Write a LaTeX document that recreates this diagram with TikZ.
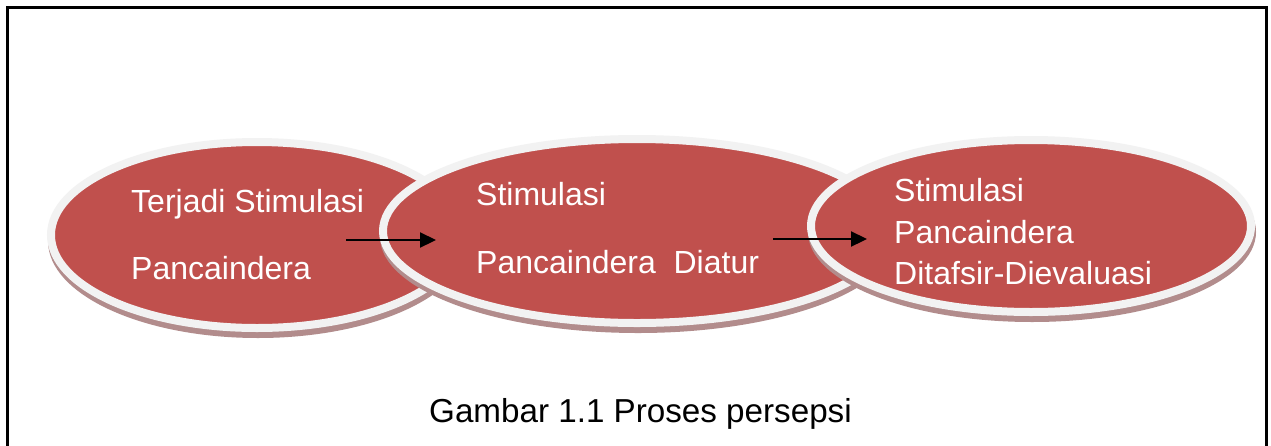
\documentclass[tikz,border=0pt]{standalone}
\usepackage{fontspec}
\setmainfont{Liberation Sans}
\usetikzlibrary{shapes.geometric,arrows.meta}
\definecolor{ovalred}{HTML}{C0504D}
\definecolor{ovalrim}{HTML}{F2F2F2}
\definecolor{ovalshadow}{RGB}{178,140,140}
\tikzset{
  oval/.style={ellipse, draw=ovalrim, line width=8pt, fill=ovalred, inner sep=0pt, outer sep=0pt},
  ovaltext/.style={anchor=base west, inner sep=0pt, text=white, font=\fontsize{32}{38}\selectfont},
  flowarrow/.style={line width=2.2pt, -{Triangle[length=16pt,width=15pt]}},
  frame/.style={line width=3pt, draw=black}
}
\begin{document}
\begin{tikzpicture}[x=1pt,y=-1pt]
\useasboundingbox (0,0) rectangle (1271,445);
\fill[white] (0,0) rectangle (1271,445);
\begin{scope}
\clip (0,0) rectangle (1271,445);
\draw[frame] (7.5,7.5) rectangle (1266.5,470);
\end{scope}
% ellipse 1
\fill[ovalshadow] (258,241) ellipse [x radius=210pt, y radius=97pt];
\node[oval, minimum width=412pt, minimum height=186pt] (e1) at (257,235) {};
% ellipse 2
\fill[ovalshadow] (638,237) ellipse [x radius=258pt, y radius=96pt];
\node[oval, minimum width=508pt, minimum height=184pt] (e2) at (637,231) {};
% ellipse 3
\fill[ovalshadow] (1032,232) ellipse [x radius=224pt, y radius=90pt];
\node[oval, minimum width=440pt, minimum height=172pt] (e3) at (1031,226) {};
% texts
\node[ovaltext] (t1a) at (131,212) {Terjadi Stimulasi};
\node[ovaltext] (t1b) at (131,279) {Pancaindera};
\node[ovaltext] (t2a) at (476,205) {Stimulasi};
\node[ovaltext] (t2b) at (476,273) {Pancaindera\ \ Diatur};
\node[ovaltext] (t3a) at (894,201) {Stimulasi};
\node[ovaltext] (t3b) at (894,243) {Pancaindera};
\node[ovaltext] (t3c) at (894,284) {Ditafsir-Dievaluasi};
% arrows
\coordinate (a1s) at (346,240);
\coordinate (a1e) at (436,240);
\coordinate (a2s) at (773,239);
\coordinate (a2e) at (867,239);
\draw[flowarrow] (a1s) -- (a1e);
\draw[flowarrow] (a2s) -- (a2e);
% caption
\node[anchor=base west, inner sep=0pt, font=\fontsize{33.2}{40}\selectfont] (cap) at (429,422) {Gambar 1.1 Proses persepsi};
\end{tikzpicture}
\end{document}
